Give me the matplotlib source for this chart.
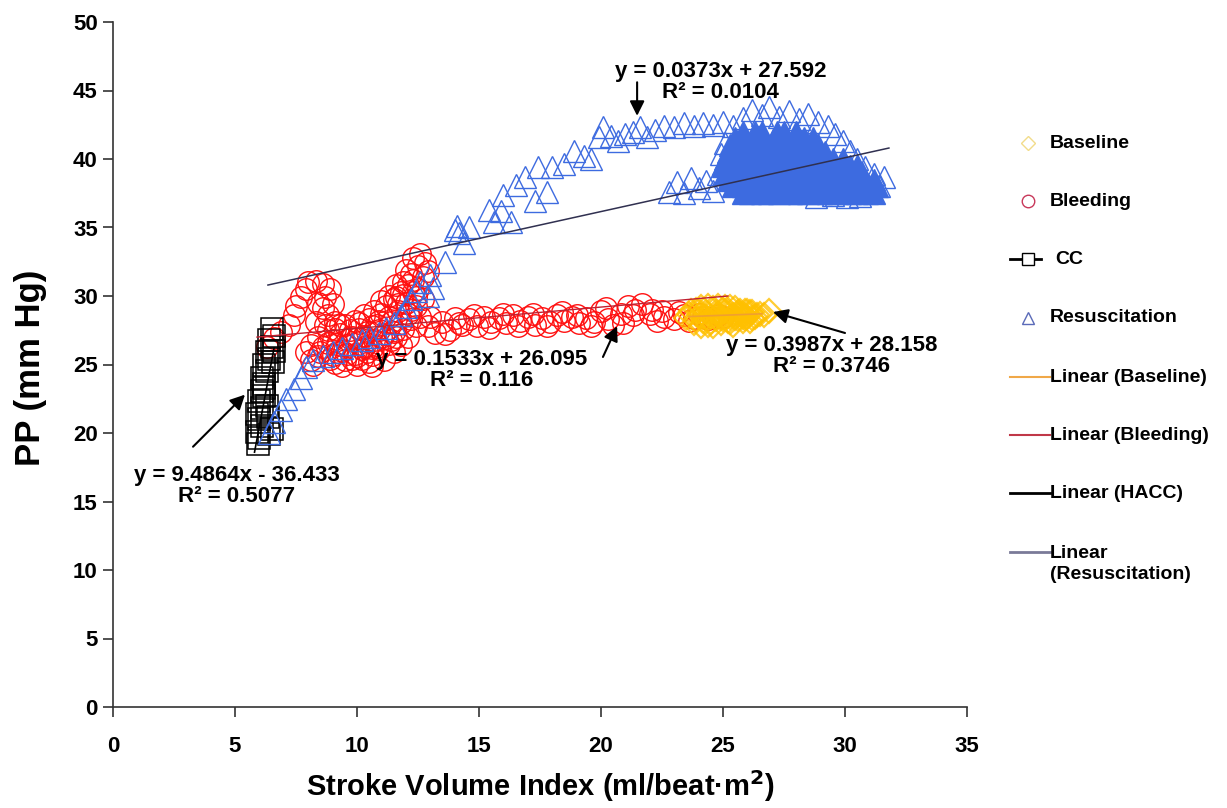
import matplotlib
matplotlib.use("Agg")
import matplotlib.pyplot as plt
from matplotlib.lines import Line2D

plt.rcParams['font.family'] = ['Liberation Sans', 'DejaVu Sans']
plt.rcParams['font.weight'] = 'bold'

# ---------------- data ----------------
cc_x = [6.5, 6.6, 6.4, 6.5, 6.3, 6.4, 6.2, 6.3, 6.1, 6.2, 6.1, 6.2, 6.0, 6.1, 5.9, 6.0,
        6.1, 5.9, 6.0, 5.95, 6.4, 6.5, 6.3, 6.6, 6.2, 6.55, 6.35]
cc_y = [27.6, 27.1, 26.8, 26.3, 25.9, 25.4, 25.0, 24.5, 24.0, 23.6, 23.1, 22.7, 22.3, 21.8,
        21.4, 21.0, 20.5, 20.1, 19.6, 19.2, 19.9, 20.3, 22.0, 26.0, 23.3, 25.2, 21.2]

bleed_x = [6.3, 6.6, 6.9, 7.2, 7.4, 7.5, 7.7, 7.9, 8.0, 8.3, 8.6, 8.9, 8.7, 9.0, 8.6, 8.4,
           8.8, 9.1, 8.8, 8.4, 8.1, 7.9, 8.1,
           8.4, 8.6, 8.9, 9.0, 9.2, 9.3, 9.5, 9.6, 9.7, 9.9, 10.0, 10.1, 10.2, 10.3, 10.4,
           10.5, 10.6, 10.7, 10.8, 10.9, 11.0, 11.1, 11.2, 11.3, 11.4, 11.5, 11.6, 11.7,
           11.8, 11.9, 12.0, 12.1, 12.2, 12.3, 12.4, 12.5, 12.3, 12.6, 12.8, 12.9, 12.7,
           11.9, 11.6, 11.3, 11.0, 10.7, 10.3, 9.9, 9.5, 9.1, 8.7, 8.3, 9.4, 10.0, 10.6,
           11.1, 11.5, 11.8, 12.1, 12.4, 12.6, 9.2, 9.8, 10.4, 10.9, 11.4, 11.7, 12.2,
           10.1, 9.6, 10.8,
           8.2, 8.5, 8.8, 9.1, 9.4, 9.7, 10.0, 10.3, 10.6, 10.9, 11.2, 11.5, 11.8, 12.1,
           12.4, 11.6, 11.9, 12.2, 12.5, 12.0, 9.3, 9.0, 10.5, 11.3, 10.2, 9.8, 12.7, 12.3,
           11.0, 10.6,
           12.9, 13.2, 13.5, 13.8, 14.0, 14.3, 14.6, 14.9, 15.2, 15.5, 15.8, 16.1, 16.4,
           16.7, 17.0, 17.3, 17.6, 17.9, 18.2, 18.5, 18.8, 19.1, 19.4, 19.7, 20.0, 20.3,
           20.5, 20.8, 21.1, 21.4, 21.7, 22.0, 22.3, 22.6, 23.0, 23.4, 23.8, 24.2, 24.6, 25.0,
           13.0, 13.6, 14.2, 14.8, 15.4, 16.0, 16.6, 17.2, 17.8, 18.4, 19.0, 19.6, 20.2,
           20.9, 21.3, 22.1, 22.5, 23.2, 23.6, 24.0, 24.4, 24.8]
bleed_y = [26.3, 26.9, 27.4, 27.9, 28.6, 29.3, 29.9, 30.5, 31.0, 31.1, 30.9, 30.5, 29.9,
           29.4, 29.1, 29.5, 28.6, 28.1, 27.5, 27.0, 26.4, 25.9, 25.3,
           25.6, 26.3, 25.4, 26.8, 25.9, 27.2, 25.3, 26.4, 27.5, 25.8, 26.9, 28.0, 25.4,
           26.3, 27.4, 28.3, 25.7, 26.8, 27.9, 26.1, 28.7, 27.2, 29.3, 26.5, 28.1, 29.8,
           27.0, 28.9, 30.3, 27.6, 29.5, 30.8, 28.3, 31.2, 29.9, 30.5, 32.8, 33.1, 32.4,
           31.8, 31.4, 31.0, 30.8, 30.0, 29.6, 28.9, 28.6, 28.2, 27.9, 27.6, 27.9, 28.1,
           24.9, 25.0, 24.9, 25.3, 25.9, 26.4, 27.0, 27.8, 28.5, 26.5, 27.0, 25.9, 27.5,
           26.8, 29.4, 29.0, 27.6, 25.8, 26.3,
           25.0, 25.9, 26.6, 25.1, 26.0, 26.9, 25.6, 27.1, 26.2, 28.2, 26.9, 27.4, 28.0,
           28.7, 29.3, 29.9, 30.1, 31.6, 32.2, 31.9, 27.9, 25.7, 25.2, 28.5, 26.1, 25.4,
           29.8, 30.3, 27.0, 27.8,
           27.8, 27.3, 28.1, 27.5, 28.4, 27.9, 28.3, 27.8, 28.5, 28.1, 28.4, 28.0, 28.6,
           28.2, 28.5, 27.9, 28.4, 28.1, 28.6, 28.2, 28.5, 28.0, 28.4, 28.1, 28.9, 28.3,
           27.9, 28.7, 29.3, 29.0, 29.4, 28.7, 28.2, 28.5, 28.3, 28.6, 28.4, 28.5, 28.4, 28.5,
           28.5, 27.2, 28.0, 28.6, 27.7, 28.7, 27.8, 28.7, 27.8, 28.8, 28.6, 27.8, 29.1,
           28.0, 28.6, 29.0, 28.9, 28.8, 28.2, 28.7, 28.3, 28.6]

base_x = [23.5, 23.7, 23.8, 24.0, 24.1, 24.2, 24.3, 24.4, 24.5, 24.6, 24.7, 24.8, 24.9,
          25.0, 25.1, 25.2, 25.3, 25.4, 25.5, 25.6, 25.7, 25.8, 25.9, 26.0, 26.1, 26.2,
          26.3, 26.5, 26.7, 26.9, 24.3, 24.7, 25.0, 25.3, 25.6, 25.9, 23.9, 24.5, 25.1, 25.7,
          23.6, 23.9, 24.2, 24.4, 24.6, 24.9, 25.1, 25.4, 25.6, 25.8, 26.0, 26.2, 26.4, 24.1,
          24.8, 25.2, 25.5, 25.9, 26.1, 24.0, 24.7, 25.3]
base_y = [28.4, 28.9, 28.0, 28.6, 29.2, 28.2, 28.8, 27.9, 28.5, 29.1, 28.3, 28.7, 28.0,
          29.0, 28.4, 28.8, 28.1, 28.6, 29.1, 28.3, 28.7, 28.2, 28.9, 28.5, 28.2, 28.8,
          28.5, 28.7, 28.6, 28.9, 28.5, 28.6, 28.3, 28.5, 28.6, 28.4, 28.3, 28.1, 28.9, 28.9,
          28.7, 29.0, 28.5, 29.3, 27.8, 28.4, 29.2, 27.9, 28.8, 28.5, 28.9, 28.4, 28.6, 27.8,
          29.3, 28.2, 28.4, 28.6, 28.8, 28.9, 28.8, 29.2]

res_x = [6.4, 6.6, 6.9, 7.1, 7.4, 7.7, 7.9, 8.2, 8.6, 9.0, 9.4, 9.8, 10.2, 10.5, 10.9,
         11.2, 11.5, 11.8, 12.0, 12.2, 12.4, 12.6, 12.9, 13.1, 13.0, 13.6, 14.0, 14.1,
         14.2, 14.4, 14.6, 15.4, 15.6, 15.9, 16.0, 16.3, 16.5, 16.9, 17.3, 17.4, 17.8,
         18.0, 18.5, 18.9, 19.3, 19.6, 19.9, 20.1, 20.4, 20.7, 21.0, 21.3, 21.6, 21.9,
         22.2, 22.6, 23.0, 23.4, 23.8, 24.2, 24.6, 25.0, 25.4,
         25.8, 26.2, 26.6, 26.9, 27.3, 27.7, 28.1, 28.5, 28.9, 29.3, 29.6, 29.9, 30.2,
         30.5, 30.8, 31.2, 31.6, 31.4, 31.0, 30.6, 30.1, 29.5, 28.8,
         22.8, 23.1, 23.4, 23.7, 24.0, 24.3, 24.6, 24.8, 25.0, 24.9, 25.1]
res_y = [20.0, 20.8, 21.7, 22.5, 23.2, 24.0, 24.8, 25.3, 25.6, 25.9, 26.2, 26.5, 26.8,
         27.0, 27.3, 27.7, 28.0, 28.6, 29.2, 29.8, 30.4, 31.0, 30.0, 30.6, 31.5, 32.5,
         34.8, 35.1, 34.6, 33.9, 35.0, 36.3, 35.4, 36.2, 37.4, 35.4, 38.1, 38.7, 36.9,
         39.4, 37.6, 39.4, 39.6, 40.6, 40.2, 40.0, 41.6, 42.3, 41.7, 41.3, 41.8, 42.0,
         42.3, 41.6, 42.1, 42.4, 42.3, 42.6, 42.4, 42.6, 42.5, 42.7, 42.4,
         43.0, 43.6, 43.2, 43.8, 43.1, 43.5, 42.9, 43.3, 42.7, 42.4, 41.8, 41.3, 40.6,
         40.0, 39.4, 38.9, 38.7, 38.0, 37.6, 37.3, 37.2, 37.4, 37.2,
         37.6, 38.3, 37.5, 38.6, 37.9, 38.4, 37.7, 38.9, 39.6, 40.4, 41.2]

# dense core of the resuscitation cloud, read row by row
core_y_levels = [42.0, 41.5, 41.0, 40.5, 40.0, 39.5, 39.0, 38.5, 38.0, 37.5]
core_x_rows = [
    [25.8, 26.3, 26.6, 27.2, 27.5, 28.0],
    [25.5, 25.9, 26.4, 26.7, 27.1, 27.6, 27.9, 28.3, 28.7],
    [25.3, 25.8, 26.1, 26.5, 27.0, 27.3, 27.8, 28.1, 28.5, 28.9],
    [25.2, 25.6, 26.0, 26.5, 26.8, 27.2, 27.7, 28.0, 28.4, 28.9, 29.2],
    [25.1, 25.5, 25.9, 26.4, 26.7, 27.1, 27.5, 28.0, 28.3, 28.7, 29.2, 29.5, 29.9],
    [25.0, 25.4, 25.9, 26.2, 26.6, 27.1, 27.4, 27.8, 28.3, 28.6, 29.0, 29.5, 29.8, 30.2, 30.5],
    [25.1, 25.5, 25.9, 26.4, 26.7, 27.1, 27.6, 27.9, 28.3, 28.8, 29.1, 29.5, 30.0, 30.3, 30.7],
    [25.2, 25.7, 26.0, 26.4, 26.9, 27.2, 27.6, 28.1, 28.4, 28.8, 29.3, 29.6, 30.0, 30.5, 30.8, 31.2],
    [25.4, 25.8, 26.3, 26.6, 27.0, 27.5, 27.8, 28.2, 28.7, 29.0, 29.4, 29.9, 30.2, 30.6, 31.0, 31.3],
    [25.8, 26.1, 26.6, 26.9, 27.3, 27.8, 28.1, 28.5, 29.0, 29.3, 29.7, 30.2, 30.5, 30.9, 31.2],
]

# trend lines (end points as drawn)
tl_base_x, tl_base_y = [23.6, 26.6], [28.5, 28.7]
tl_bleed_x, tl_bleed_y = [5.9, 25.2], [27.0, 30.0]
tl_cc_x, tl_cc_y = [5.8, 6.6], [18.6, 26.2]
tl_res_x, tl_res_y = [6.35, 31.8], [30.8, 40.8]

eq_texts = ["y = 9.4864x - 36.433\nR² = 0.5077",
            "y = 0.1533x + 26.095\nR² = 0.116",
            "y = 0.3987x + 28.158\nR² = 0.3746",
            "y = 0.0373x + 27.592\nR² = 0.0104"]
eq_pos = [(5.08, 16.1), (15.1, 24.6), (29.45, 25.65), (24.9, 45.65)]
arrow_tail = [(3.28, 19.0), (20.08, 25.55), (30.0, 27.3), (21.48, 45.6)]
arrow_head = [(5.41, 22.8), (20.66, 27.8), (27.05, 28.83), (21.48, 43.15)]

legend_labels = ["Baseline", "Bleeding", "CC", "Resuscitation", "Linear (Baseline)",
                 "Linear (Bleeding)", "Linear (HACC)", "Linear\n(Resuscitation)"]

x_ticks = [0, 5, 10, 15, 20, 25, 30, 35]
y_ticks = [0, 5, 10, 15, 20, 25, 30, 35, 40, 45, 50]

# ---------------- figure ----------------
W, H = 1227, 808
fig = plt.figure(figsize=(W / 100, H / 100), dpi=100)
ax = fig.add_axes([113 / W, 1 - 707 / H, (967 - 113) / W, (707 - 22) / H])

blue = '#3D6BE0'
MS = 15.5
ax.plot(bleed_x, bleed_y, ls='none', marker='o', ms=MS, mfc='none', mec='#FF1010', mew=1.0, zorder=3)
ax.plot(base_x, base_y, ls='none', marker='D', ms=12, mfc='none', mec='#FFC000', mew=1.6, alpha=0.8, zorder=4)
ax.plot(cc_x, cc_y, ls='none', marker='s', ms=MS, mfc='none', mec='black', mew=1.1, zorder=3)
for yl, xs in zip(core_y_levels, core_x_rows):
    ax.plot(xs, [yl] * len(xs), ls='none', marker='^', ms=MS, mfc=blue, mec=blue, mew=1.0, zorder=3)
ax.plot(res_x, res_y, ls='none', marker='^', ms=MS, mfc='none', mec=blue, mew=1.0, zorder=3)

ax.plot(tl_base_x, tl_base_y, color='#F0A030', lw=1.2, zorder=5)
ax.plot(tl_bleed_x, tl_bleed_y, color='#C02030', lw=1.0, zorder=5)
ax.plot(tl_cc_x, tl_cc_y, color='black', lw=1.2, zorder=5)
ax.plot(tl_res_x, tl_res_y, color='#303050', lw=1.1, zorder=5)

for txt, (tx, ty), tail, head in zip(eq_texts, eq_pos, arrow_tail, arrow_head):
    ax.text(tx, ty, txt, ha='center', va='center', fontsize=16, fontweight='bold',
            linespacing=1.0, zorder=6)
    ax.annotate('', xy=head, xytext=tail,
                arrowprops=dict(arrowstyle='-|>', color='black', lw=1.5,
                                mutation_scale=22, shrinkA=0, shrinkB=0), zorder=6)

ax.set_xlim(0, 35)
ax.set_ylim(0, 50)
ax.set_xticks(x_ticks)
ax.set_yticks(y_ticks)
for s in ['top', 'right']:
    ax.spines[s].set_visible(False)
for s in ['left', 'bottom']:
    ax.spines[s].set_linewidth(1.2)
    ax.spines[s].set_color('#333333')
ax.tick_params(direction='out', length=7, width=1.2, colors='#333333', labelcolor='black',
               labelsize=16)
ax.tick_params(axis='x', pad=14)
ax.tick_params(axis='y', pad=4)
for lab in ax.get_xticklabels() + ax.get_yticklabels():
    lab.set_fontweight('bold')
ax.set_xlabel('Stroke Volume Index (ml/beat·m$^{\\mathbf{2}}$)', fontsize=21, fontweight='bold', labelpad=8)
ax.set_ylabel('PP (mm Hg)', fontsize=25, fontweight='bold')
ax.yaxis.set_label_coords(-0.077, 0.495)

# ---------------- legend (drawn manually) ----------------
leg_y = [143, 201, 259, 318, 377, 435, 493, 564]
handles = [
    dict(marker='D', ms=7, mec='#F2DC8A', ls='none'),
    dict(marker='o', ms=9, mec='#C8385A', ls='none'),
    dict(marker='s', ms=9, mec='black', mfc='white', ls='-', color='black', lw=2),
    dict(marker='^', ms=9, mec='#5A6AB8', ls='none'),
    dict(marker=None, ls='-', color='#F0A848', lw=1.5),
    dict(marker=None, ls='-', color='#C03848', lw=1.5),
    dict(marker=None, ls='-', color='black', lw=2),
    dict(marker=None, ls='-', color='#7A7A98', lw=2),
]
line_y = [143, 201, 259, 318, 377, 435, 493, 552]
for lab, yy, ly, hd in zip(legend_labels, leg_y, line_y, handles):
    fy = 1 - yy / H
    fly = 1 - ly / H
    if hd.get('marker') in ('D', 'o', '^'):
        xs = [1028 / W]
        ys = [fly]
    elif hd.get('marker') == 's':
        xs = [1010 / W, 1028 / W, 1041 / W]
        ys = [fly, fly, fly]
    else:
        xs = [1010 / W, 1050 / W]
        ys = [fly, fly]
    kw = dict(hd)
    kw.setdefault('mfc', 'none')
    ln = Line2D(xs, ys, transform=fig.transFigure, markevery=[1] if hd.get('marker') == 's' else None, **kw)
    fig.add_artist(ln)
    tx = 1055 if lab == 'CC' else 1050
    fig.text(tx / W, fy, lab, ha='left', va='center', fontsize=14, fontweight='bold',
             linespacing=1.3)

fig.savefig('out.png', dpi=100)
